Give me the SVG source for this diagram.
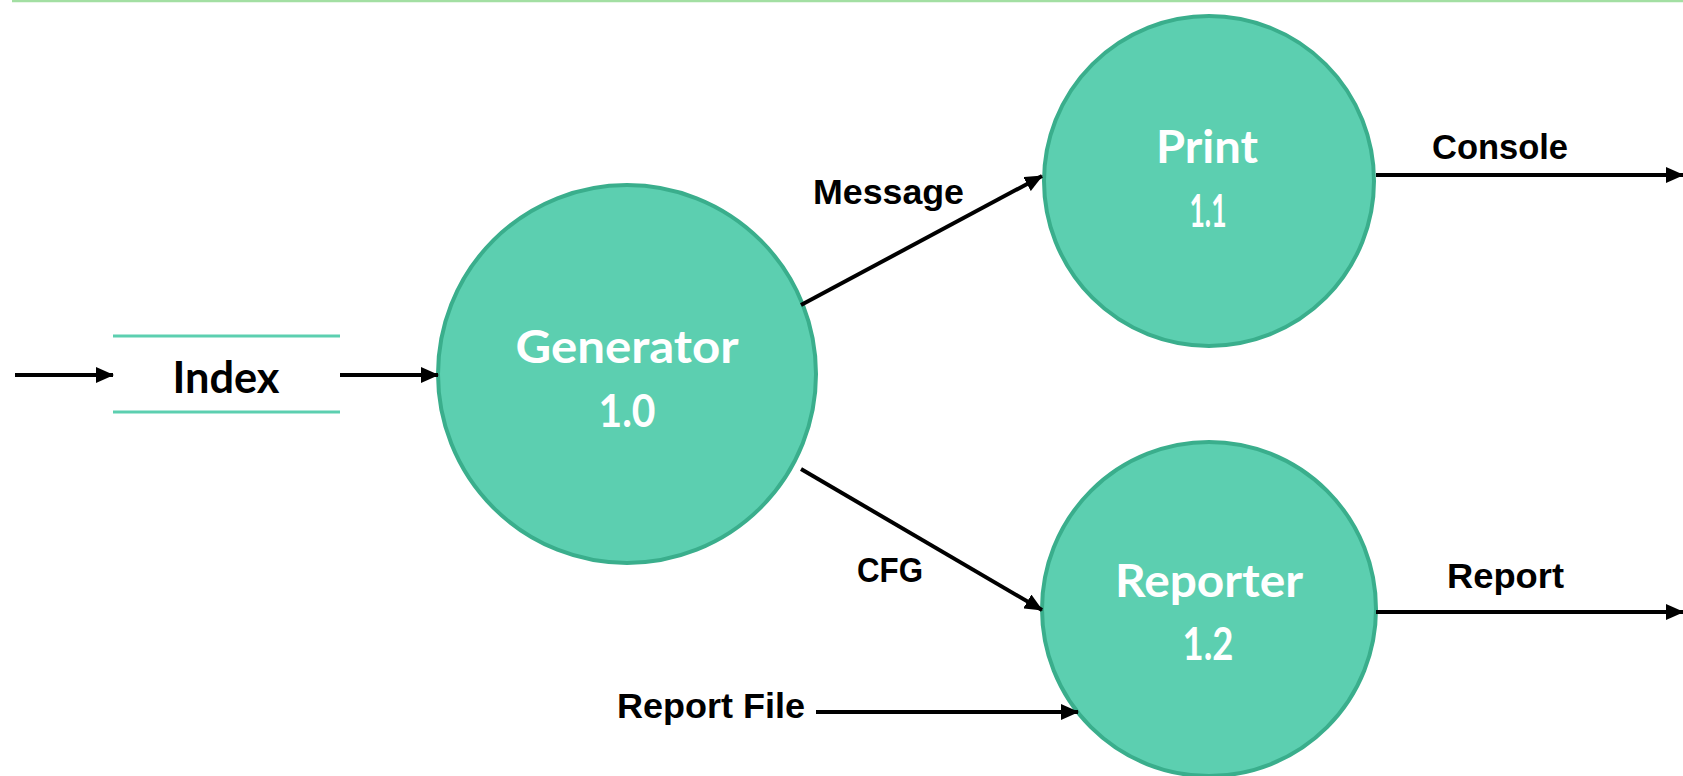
<svg xmlns="http://www.w3.org/2000/svg" width="1683" height="776" viewBox="0 0 1683 776">
<style>
.node circle{fill:#5ccfb0;stroke:#3aae8c;stroke-width:4}
.nt{font-family:Lato,"Noto Sans",sans-serif;font-weight:bold;font-size:46px;fill:#ffffff;text-anchor:middle}
.lbl{font-family:"Liberation Sans",Arial,sans-serif;font-weight:bold;font-size:35px;fill:#000}
.edge{stroke:#000;stroke-width:4;fill:none;marker-end:url(#ah)}
</style>
<defs>
<marker id="ah" markerUnits="userSpaceOnUse" markerWidth="18" markerHeight="16" refX="17" refY="8" orient="auto">
<path d="M0,0 L18,8 L0,16 Z" fill="#000"/>
</marker>
</defs>
<rect width="1683" height="776" fill="#fff"/>
<line x1="12" y1="1" x2="1683" y2="1" stroke="#a3dfa3" stroke-width="2.5"/>
<g id="index">
<line x1="113" y1="336" x2="340" y2="336" stroke="#5ccfb0" stroke-width="3"/>
<line x1="113" y1="412" x2="340" y2="412" stroke="#5ccfb0" stroke-width="3"/>
<text x="226" y="393" font-family="Lato,'Noto Sans',sans-serif" font-weight="bold" font-size="44" fill="#000" text-anchor="middle" textLength="107" lengthAdjust="spacingAndGlyphs">Index</text>
</g>
<g id="generator" class="node">
<circle cx="627" cy="374" r="189"/>
<text class="nt" x="627" y="363" textLength="223" lengthAdjust="spacingAndGlyphs">Generator</text>
<text class="nt" x="627" y="427" textLength="57" lengthAdjust="spacingAndGlyphs">1.0</text>
</g>
<g id="print" class="node">
<circle cx="1209" cy="181" r="165"/>
<text class="nt" x="1207" y="163" textLength="102" lengthAdjust="spacingAndGlyphs">Print</text>
<text class="nt" x="1208" y="227" textLength="37" lengthAdjust="spacingAndGlyphs">1.1</text>
</g>
<g id="reporter" class="node">
<circle cx="1209" cy="609" r="167"/>
<text class="nt" x="1209" y="597" textLength="188" lengthAdjust="spacingAndGlyphs">Reporter</text>
<text class="nt" x="1208" y="660" textLength="51" lengthAdjust="spacingAndGlyphs">1.2</text>
</g>
<g id="connectors">
<line class="edge" x1="15" y1="375" x2="113" y2="375"/>
<line class="edge" x1="340" y1="375" x2="438" y2="375"/>
<line class="edge" x1="801" y1="305" x2="1042" y2="176"/>
<line class="edge" x1="801" y1="469" x2="1042" y2="610"/>
<line class="edge" x1="1376" y1="175" x2="1683" y2="175"/>
<line class="edge" x1="1376" y1="612" x2="1683" y2="612"/>
<line class="edge" x1="816" y1="712" x2="1078" y2="712"/>
</g>
<g id="labels">
<text class="lbl" x="813" y="204" textLength="151" lengthAdjust="spacingAndGlyphs">Message</text>
<text class="lbl" x="857" y="582" textLength="66" lengthAdjust="spacingAndGlyphs">CFG</text>
<text class="lbl" x="1432" y="159" textLength="136" lengthAdjust="spacingAndGlyphs">Console</text>
<text class="lbl" x="1447" y="588" textLength="117" lengthAdjust="spacingAndGlyphs">Report</text>
<text class="lbl" x="617" y="718" textLength="188" lengthAdjust="spacingAndGlyphs">Report File</text>
</g>
</svg>
